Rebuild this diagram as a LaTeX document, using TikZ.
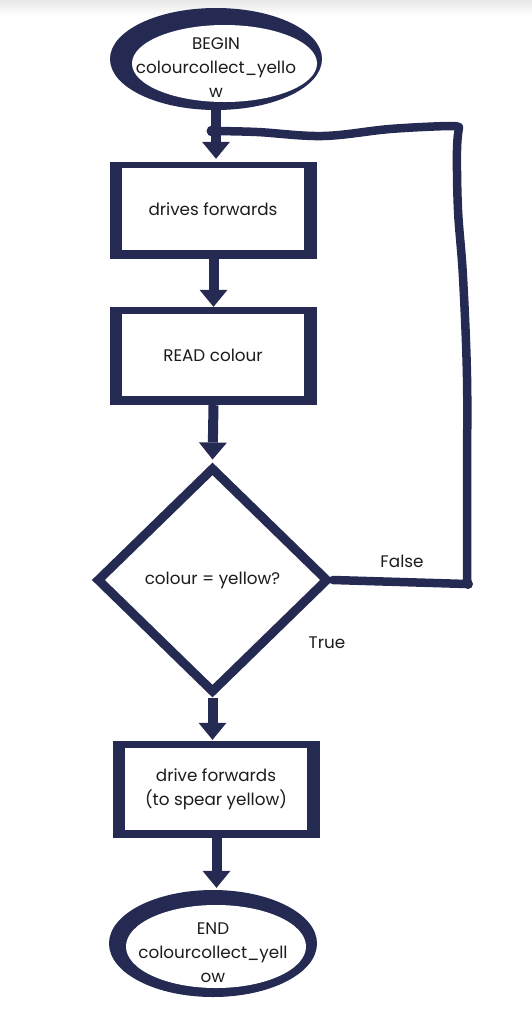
\documentclass[tikz,border=0pt]{standalone}
\usepackage{fontspec}
\setmainfont{Poppins}
\usetikzlibrary{arrows.meta,shapes.geometric}
\definecolor{navy}{RGB}{37,42,82}
\definecolor{ink}{RGB}{28,28,30}
\begin{document}
\begin{tikzpicture}[x=1pt,y=-1pt,
  lbl/.style={font=\fontsize{16.8}{24}\selectfont, text=ink, align=center, inner sep=0pt},
  frame/.style={rectangle, fill=navy, inner sep=0pt},
  face/.style={rectangle, fill=white, inner sep=0pt},
  ringout/.style={ellipse, fill=navy, inner sep=0pt},
  ringin/.style={ellipse, fill=white, inner sep=0pt},
  flow/.style={draw=navy, line width=10pt,
    -{Triangle[width=28pt, length=17pt, line width=0pt]}},
  loopline/.style={draw=navy, line width=8.5pt, line cap=round, line join=round},
  choice/.style={diamond, draw=navy, line width=9pt, line join=miter, fill=white,
    inner sep=0pt, minimum width=232pt, minimum height=226pt}
]
\useasboundingbox (0,0) rectangle (532,1010);
\shade[top color=black!9, bottom color=white] (0,0) rectangle (532,16);

% start terminal
\node[ringout, minimum width=212pt, minimum height=102pt] (begin) at (216,59) {};
\node[ringin, minimum width=185pt, minimum height=77pt] (beginface) at (224.5,63.5) {};
\node[lbl] (begintext) at (216,68) {BEGIN\\colourcollect\_yello\\w};

% process boxes
\node[frame, minimum width=207pt, minimum height=97pt] (b1) at (213.5,210.5) {};
\node[face, minimum width=182pt, minimum height=82pt, lbl] (b1t) at (213,209) {drives forwards};

\node[frame, minimum width=207pt, minimum height=98pt] (b2) at (213.5,356) {};
\node[face, minimum width=182pt, minimum height=82pt, lbl] (b2t) at (213,355) {READ colour};

% decision
\node[choice, lbl] (dia) at (212.5,580) {colour = yellow?};

\node[frame, minimum width=207pt, minimum height=97pt] (b3) at (216.5,789.5) {};
\node[face, minimum width=182pt, minimum height=82pt, lbl] (b3t) at (216,789) {drive forwards\\(to spear yellow)};

% end terminal
\node[ringout, minimum width=208pt, minimum height=107pt] (end) at (213,943.5) {};
\node[ringin, minimum width=180pt, minimum height=83pt] (endface) at (216,946.5) {};
\node[lbl] (endtext) at (213,953) {END\\colourcollect\_yell\\ow};

% branch labels
\node[lbl] (lfalse) at (402,561) {False};
\node[lbl] (ltrue) at (327,643) {True};

% main flow
\draw[flow, shorten >=3pt] (begin.south) -- (begin.south |- b1.north);
\draw[flow] (b1.south) -- (b2.north);
\draw[flow, shorten >=3pt] (b2.south) -- (dia.north);
\draw[flow, shorten >=1pt] (dia.south) -- (dia.south |- b3.north);
\draw[flow, shorten >=2pt] (b3.south) -- (b3.south |- end.north);

% loop back on False
\coordinate (join) at (212,131);
\coordinate (corner) at (459,128);
\coordinate (foot) at (467,584);
\draw[loopline] (dia.east) -- (foot);
\draw[loopline] plot[smooth, tension=0.6] coordinates
  {(foot) (467,480) (467,377) (463,277) (458,210) (457,150) (corner)};
\draw[loopline] plot[smooth, tension=0.6] coordinates
  {(corner) (450,126) (390,129) (323,136) (257,132) (join)};
\fill[navy] (join) circle (5.5pt);
\fill[navy] (foot) ++(1,0) circle (5pt);
\end{tikzpicture}
\end{document}
